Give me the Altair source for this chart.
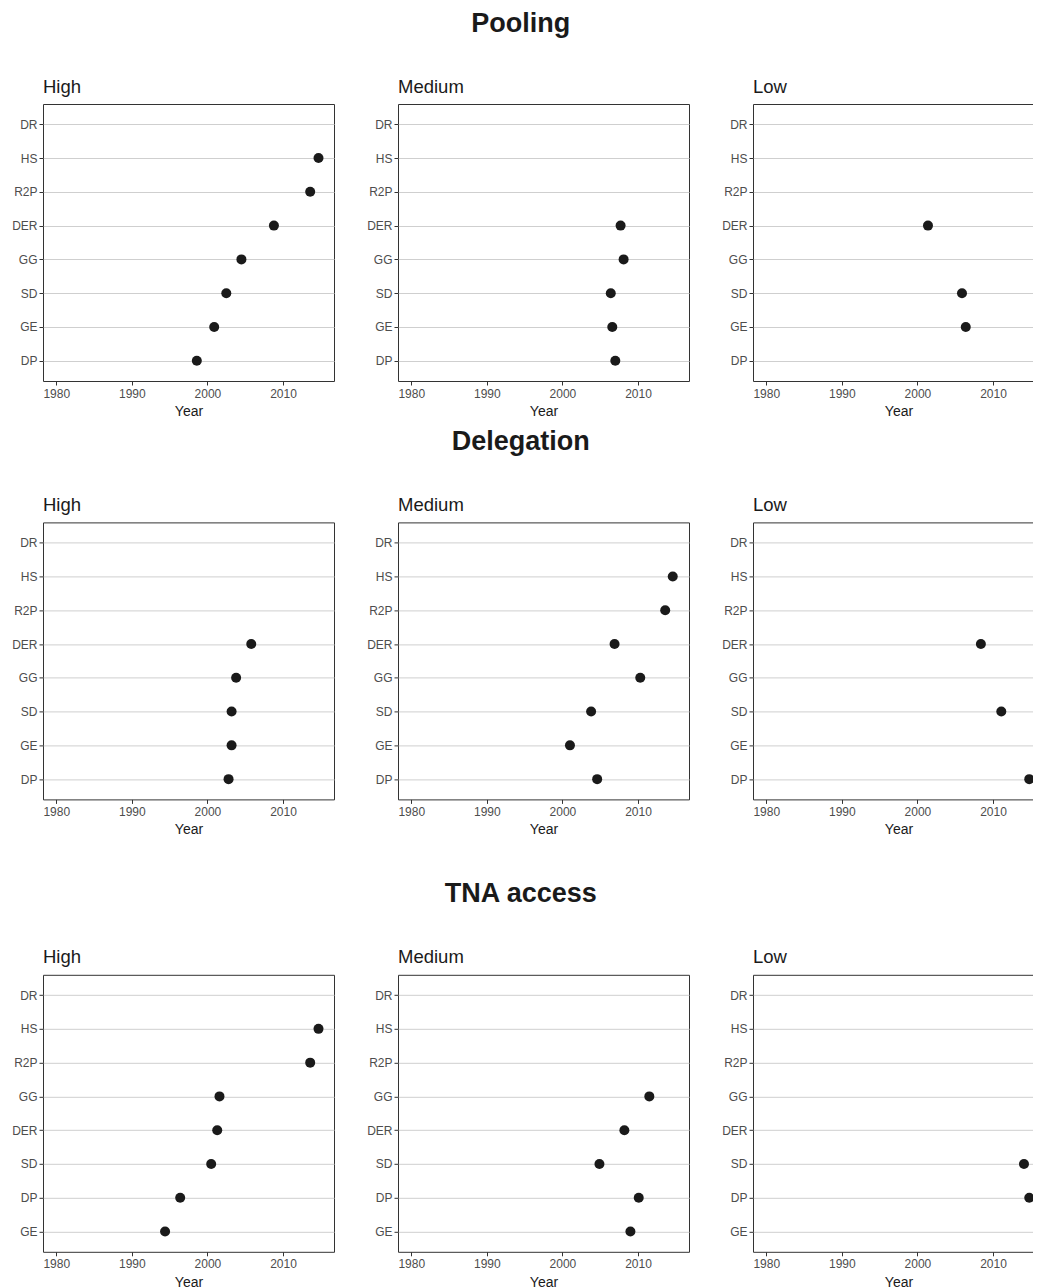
import altair as alt
import pandas as pd

# Category order (top to bottom) for each dimension
CATS_POOLING = ["DR", "HS", "R2P", "DER", "GG", "SD", "GE", "DP"]
CATS_DELEGATION = ["DR", "HS", "R2P", "DER", "GG", "SD", "GE", "DP"]
CATS_TNA = ["DR", "HS", "R2P", "GG", "DER", "SD", "DP", "GE"]

LEVELS = ["High", "Medium", "Low"]

# Year per issue area
POOLING_HIGH = {"HS": 2014.7, "R2P": 2013.6, "DER": 2008.8, "GG": 2004.5, "SD": 2002.5, "GE": 2000.9, "DP": 1998.6}
POOLING_MEDIUM = {"DER": 2007.7, "GG": 2008.1, "SD": 2006.4, "GE": 2006.6, "DP": 2007.0}
POOLING_LOW = {"DER": 2001.4, "SD": 2005.9, "GE": 2006.4}

DELEGATION_HIGH = {"DER": 2005.8, "GG": 2003.8, "SD": 2003.2, "GE": 2003.2, "DP": 2002.8}
DELEGATION_MEDIUM = {"HS": 2014.6, "R2P": 2013.6, "DER": 2006.9, "GG": 2010.3, "SD": 2003.8, "GE": 2001.0, "DP": 2004.6}
DELEGATION_LOW = {"DER": 2008.4, "SD": 2011.1, "DP": 2014.8}

TNA_HIGH = {"HS": 2014.7, "R2P": 2013.6, "GG": 2001.6, "DER": 2001.3, "SD": 2000.5, "DP": 1996.4, "GE": 1994.4}
TNA_MEDIUM = {"GG": 2011.5, "DER": 2008.2, "SD": 2004.9, "DP": 2010.1, "GE": 2009.0}
TNA_LOW = {"SD": 2014.1, "DP": 2014.8}

X_TICKS = [1980, 1990, 2000, 2010]
X_DOMAIN = [1978.25, 2016.75]

FONT = "Liberation Sans"
GREY_TEXT = "#4D4D4D"


def panel(level, cats, values):
    df = pd.DataFrame({"issue": list(values.keys()), "year": list(values.values())})
    return (
        alt.Chart(df)
        .mark_circle(size=100, color="#1a1a1a", opacity=1)
        .encode(
            x=alt.X(
                "year:Q",
                scale=alt.Scale(domain=X_DOMAIN, nice=False, zero=False),
                axis=alt.Axis(
                    values=X_TICKS, format="d", title="Year", grid=False, domain=False,
                    tickSize=4, tickColor="#333333", labelColor=GREY_TEXT, labelFontSize=12,
                    labelPadding=3, labelFont=FONT, titleFont=FONT, titleFontSize=14,
                    titleFontWeight="normal", titleColor="#1a1a1a", titlePadding=5.5,
                ),
            ),
            y=alt.Y(
                "issue:N",
                scale=alt.Scale(type="point", domain=cats, padding=0.6),
                sort=cats,
                axis=alt.Axis(
                    title=None, grid=True, gridColor="#CFCFCF", gridWidth=1, domain=False,
                    tickSize=4, tickColor="#333333", labelColor=GREY_TEXT, labelFontSize=12,
                    labelPadding=2, labelFont=FONT,
                ),
            ),
        )
        .properties(
            width=291,
            height=277,
            title=alt.TitleParams(
                level, anchor="start", frame="group", fontSize=18.5, fontWeight="normal",
                font=FONT, color="#1a1a1a", baseline="alphabetic", offset=-7,
            ),
        )
    )


def row(name, cats, data):
    return alt.hconcat(
        *[panel(lv, cats, d) for lv, d in zip(LEVELS, data)],
        spacing=31,
        title=alt.TitleParams(
            name, anchor="middle", fontSize=27, fontWeight="bold", font=FONT,
            color="#1a1a1a", baseline="alphabetic", offset=18.4, dx=-7,
        ),
    )


row1 = row("Pooling", CATS_POOLING, [POOLING_HIGH, POOLING_MEDIUM, POOLING_LOW])
row2 = row("Delegation", CATS_DELEGATION, [DELEGATION_HIGH, DELEGATION_MEDIUM, DELEGATION_LOW])
row3 = row("TNA access", CATS_TNA, [TNA_HIGH, TNA_MEDIUM, TNA_LOW])

chart = (
    alt.vconcat(alt.vconcat(row1, row2, spacing=8.4), row3, spacing=41.8)
    .properties(padding={"left": 3, "top": 1, "right": -12, "bottom": 0}, background="white")
    .configure_view(stroke="#333333", strokeWidth=1)
)

chart.save("out.html", embed_options={"renderer": "svg", "actions": False})
